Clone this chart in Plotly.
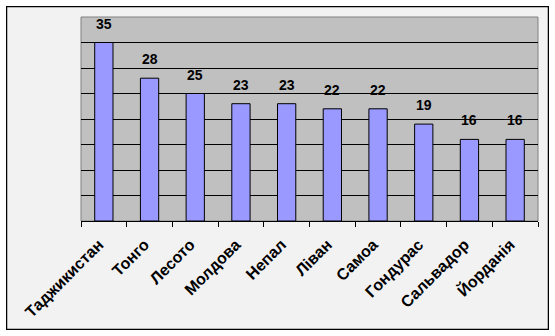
import plotly.graph_objects as go

countries = ["Таджикистан", "Тонго", "Лесото", "Молдова", "Непал", "Ліван", "Самоа", "Гондурас", "Сальвадор", "Йорданія"]
values = [35, 28, 25, 23, 23, 22, 22, 19, 16, 16]

W, H = 555, 336
L, R, T, B = 81, 17, 17, 115
pw, ph = W - L - R, H - T - B

def px2x(px):
    return (px - L) / pw

def py2y(py):
    return (H - B - py) / ph

FONT = "Liberation Sans, Arial"

fig = go.Figure()
fig.add_trace(go.Bar(
    x=countries, y=values,
    marker=dict(color="#9999ff", line=dict(color="black", width=1)),
    width=0.4,
))

for c, v in zip(countries, values):
    fig.add_annotation(
        x=c, y=v, text=str(v), showarrow=False,
        xanchor="center", yanchor="bottom", yshift=9,
        font=dict(family=FONT, size=14, color="black", weight="bold"),
    )

fig.update_layout(
    width=W, height=H,
    margin=dict(l=L, r=R, t=T, b=B),
    paper_bgcolor="#f2f2f2",
    plot_bgcolor="#c0c0c0",
    showlegend=False,
    font=dict(family=FONT, color="black"),
    xaxis=dict(
        type="category", tickangle=-45, tickson="boundaries",
        ticks="outside", ticklen=5, tickcolor="black",
        ticklabelstandoff=7, ticklabelshift=-5,
        showline=True, linecolor="black", linewidth=1,
        showgrid=False,
        tickfont=dict(family=FONT, size=16, color="black", weight="bold"),
    ),
    yaxis=dict(
        range=[0, 40], dtick=5, showticklabels=False,
        showgrid=True, gridcolor="black", gridwidth=1,
        zeroline=False, showline=False,
    ),
    shapes=[
        dict(type="rect", xref="paper", yref="paper",
             x0=0, x1=1, y0=0, y1=1, line=dict(color="#808080", width=1), layer="below"),
        dict(type="rect", xref="paper", yref="paper",
             x0=px2x(6.5), x1=px2x(548.5), y0=py2y(329.5), y1=py2y(6.5),
             line=dict(color="black", width=1.5), layer="below"),
        dict(type="rect", xref="paper", yref="paper",
             x0=px2x(-5), x1=px2x(6), y0=py2y(345), y1=py2y(-5),
             line=dict(width=0), fillcolor="white", layer="below"),
        dict(type="rect", xref="paper", yref="paper",
             x0=px2x(549), x1=px2x(565), y0=py2y(345), y1=py2y(-5),
             line=dict(width=0), fillcolor="white", layer="below"),
        dict(type="rect", xref="paper", yref="paper",
             x0=px2x(-5), x1=px2x(565), y0=py2y(6), y1=py2y(-5),
             line=dict(width=0), fillcolor="white", layer="below"),
        dict(type="rect", xref="paper", yref="paper",
             x0=px2x(-5), x1=px2x(565), y0=py2y(345), y1=py2y(330),
             line=dict(width=0), fillcolor="white", layer="below"),
    ],
)

fig.write_html("out.html")
